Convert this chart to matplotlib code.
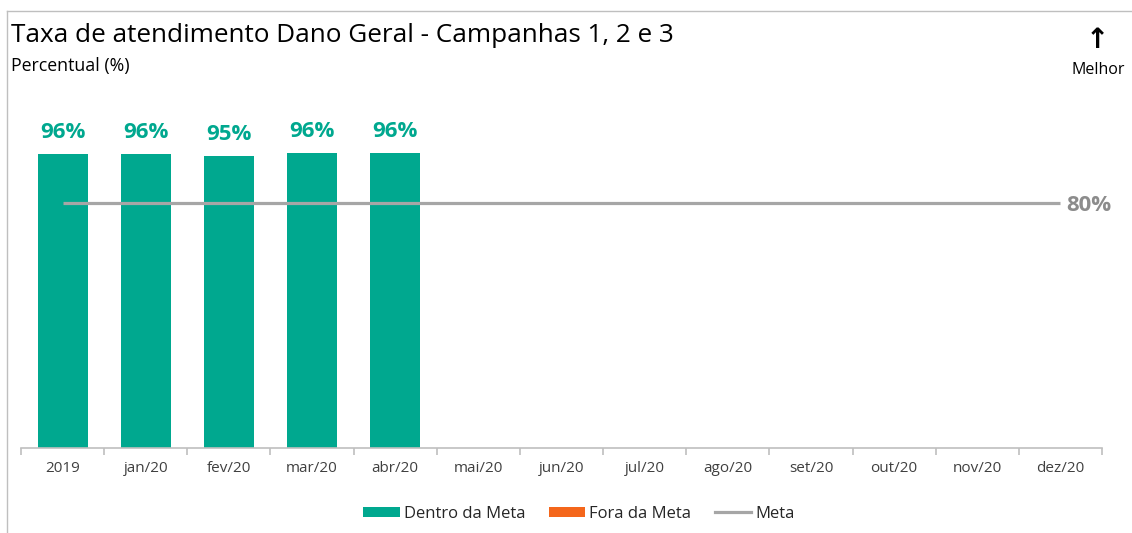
import matplotlib
matplotlib.use("Agg")
import matplotlib.pyplot as plt
from matplotlib.patches import Patch
from matplotlib.lines import Line2D

categories = ["2019", "jan/20", "fev/20", "mar/20", "abr/20", "mai/20", "jun/20",
              "jul/20", "ago/20", "set/20", "out/20", "nov/20", "dez/20"]
dentro_values = [96.1, 96.1, 95.4, 96.2, 96.2, None, None, None, None, None, None, None, None]
dentro_labels = ["96%", "96%", "95%", "96%", "96%"]
meta_values = [80] * 13
meta_label = "80%"

TEAL = "#00A88F"
ORANGE = "#F4661B"
GRAY = "#A6A6A6"
FONT = "Open Sans"

plt.rcParams["font.family"] = [FONT, "DejaVu Sans"]

W, H = 1132, 533
fig = plt.figure(figsize=(W / 100, H / 100), dpi=100)

# axes placement (pixel based)
x_left, x_right = 21, 1102
y_base, y_top = 448, 448 - 306.25
ax = fig.add_axes([x_left / W, 1 - y_base / H, (x_right - x_left) / W, (y_base - y_top) / H])
ax.set_xlim(-0.5, len(categories) - 0.5)
ax.set_ylim(0, 100)

xs = list(range(len(categories)))
bx = [x for x, v in zip(xs, dentro_values) if v is not None]
bv = [v for v in dentro_values if v is not None]
ax.bar(bx, bv, width=0.6, color=TEAL, zorder=2)
for x, v, lab in zip(bx, bv, dentro_labels):
    ax.annotate(lab, (x, v), xytext=(0, 8), textcoords="offset points",
                ha="center", va="bottom", fontsize=16, fontweight="bold", color=TEAL)

ax.plot(xs, meta_values, color=GRAY, lw=2.3, zorder=3, solid_capstyle="butt")
ax.annotate(meta_label, (xs[-1], meta_values[-1]), xytext=(4, -1.5), textcoords="offset points",
            ha="left", va="center", fontsize=16, fontweight="bold", color="#8C8C8C")

for s in ["top", "right", "left"]:
    ax.spines[s].set_visible(False)
ax.spines["bottom"].set_color("#BFBFBF")
ax.spines["bottom"].set_linewidth(1.2)
ax.set_yticks([])
ax.set_xticks(xs)
ax.set_xticklabels(categories, fontsize=11, color="#404040")
ax.tick_params(axis="x", length=0, pad=9)
# tick marks at category boundaries
ax.set_xticks([x - 0.5 for x in xs] + [xs[-1] + 0.5], minor=True)
ax.tick_params(axis="x", which="minor", length=5, color="#BFBFBF", width=1.2)

# frame
fig.add_artist(Line2D([7 / W, 1], [1 - 11 / H, 1 - 11 / H], color="#BFBFBF", lw=1, transform=fig.transFigure))
fig.add_artist(Line2D([7 / W, 7 / W], [0, 1 - 11 / H], color="#BFBFBF", lw=1, transform=fig.transFigure))

fig.text(11 / W, 1 - 36 / H, "Taxa de atendimento Dano Geral - Campanhas 1, 2 e 3",
         fontsize=18.8, color="black", ha="left", va="center")
fig.text(11 / W, 1 - 66 / H, "Percentual (%)", fontsize=12.8, color="black", ha="left", va="center")
fig.text(1097 / W, 1 - 40 / H, "↑", fontsize=20, color="black", ha="center", va="center",
         family=["DejaVu Sans"], fontweight="bold")
fig.text(1098 / W, 1 - 70 / H, "Melhor", fontsize=11.5, color="black", ha="center", va="center")

handles = [Patch(facecolor=TEAL, edgecolor="none"),
           Patch(facecolor=ORANGE, edgecolor="none"),
           Line2D([], [], color=GRAY, lw=2.3)]
fig.legend(handles, ["Dentro da Meta", "Fora da Meta", "Meta"], loc="center",
           bbox_to_anchor=(579 / W, 1 - 514 / H), ncol=3, frameon=False, fontsize=12,
           handlelength=2.2, handleheight=0.6, handletextpad=0.25, columnspacing=1.4,
           labelcolor="#262626")

fig.savefig("out.png", dpi=100)
